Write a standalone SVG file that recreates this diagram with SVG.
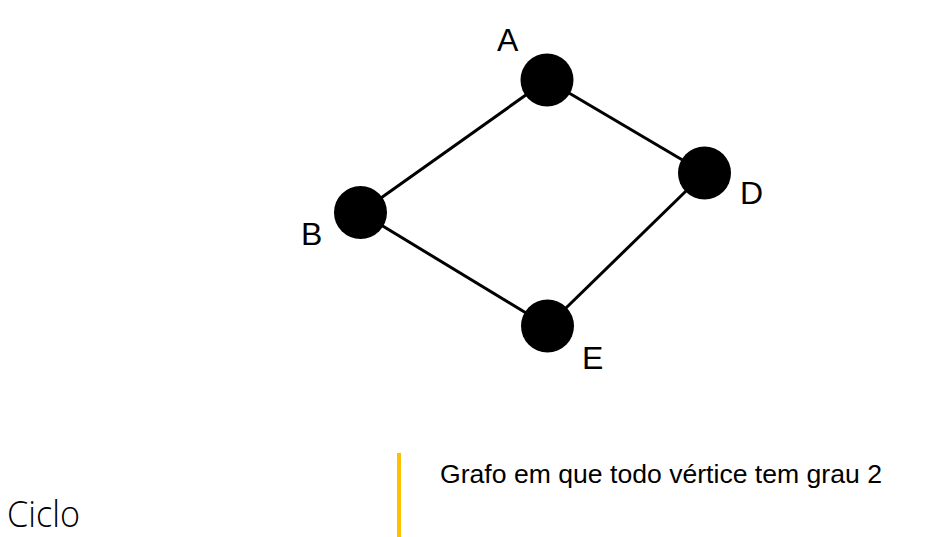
<svg xmlns="http://www.w3.org/2000/svg" width="929" height="537" viewBox="0 0 929 537">
<style>
.edge{stroke:#000;stroke-width:3;fill:none}
.node{fill:#000}
.lbl{font-family:"Liberation Sans",Arial,sans-serif;font-size:32px;fill:#000}
.desc{font-family:"Liberation Sans",Arial,sans-serif;font-size:26px;fill:#000}
.title{font-family:"Open Sans","Liberation Sans",sans-serif;font-weight:300;font-size:36px;fill:#000}
</style>
<rect width="929" height="537" fill="#fff"/>
<g id="connectors">
<line class="edge" x1="547" y1="80" x2="360.5" y2="212.5"/>
<line class="edge" x1="547" y1="80" x2="704.5" y2="173"/>
<line class="edge" x1="704.5" y1="173" x2="547.5" y2="326"/>
<line class="edge" x1="547.5" y1="326" x2="360.5" y2="212.5"/>
</g>
<g id="A"><circle class="node" cx="547" cy="80" r="26.5"/><text class="lbl" x="497" y="51">A</text></g>
<g id="B"><circle class="node" cx="360.5" cy="212.5" r="26.5"/><text class="lbl" x="301" y="245">B</text></g>
<g id="D"><circle class="node" cx="704.5" cy="173" r="26.5"/><text class="lbl" x="740" y="204">D</text></g>
<g id="E"><circle class="node" cx="547.5" cy="326" r="26.5"/><text class="lbl" x="582" y="369">E</text></g>
<g id="caption">
<rect x="397" y="453" width="4" height="84" fill="#FFC000"/>
<text class="desc" x="440" y="483" textLength="442" lengthAdjust="spacingAndGlyphs">Grafo em que todo vértice tem grau 2</text>
<text class="title" x="7" y="527" textLength="73" lengthAdjust="spacingAndGlyphs">Ciclo</text>
</g>
</svg>
